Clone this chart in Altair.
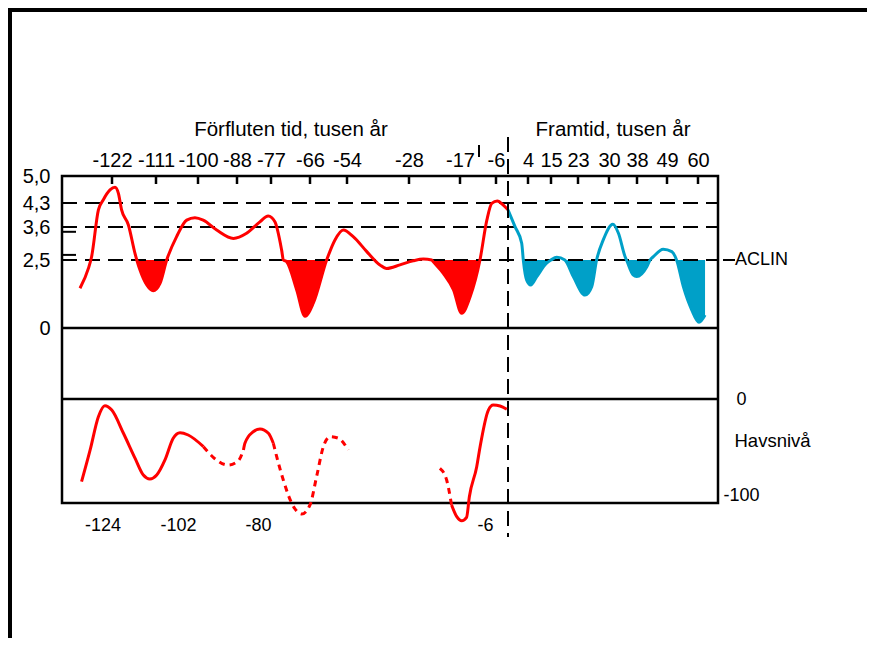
import altair as alt
import pandas as pd

# ---------------- data ----------------
# climate index (ACLIN scale), past (red) and future (blue); time in thousand years
PAST_T = [-130, -127.9, -127.1, -125.4, -124.2, -122.5, -121.25, -120.4, -119.6, -117.9,
          -116.25, -115.8, -115, -113.3, -111.7, -109.95, -108.2, -105.6, -102.96, -100.8,
          -98.4, -94.25, -89.1, -84.9, -80.6, -77.9, -75.9, -74.0, -73.5, -72.6,
          -69.75, -67.4, -64.9, -60.6, -57.9, -55.2, -51.4, -45.7, -40.2, -37.4,
          -31.8, -27.1, -24.9, -23.1, -22.8, -20.6, -18.4, -16.5, -13.9, -10.9,
          -8.8, -7.3, -5.35, -2.35, 0]
PAST_V = [1.46, 2.19, 2.61, 4.10, 4.38, 4.64, 4.71, 4.55, 4.10, 3.66,
          2.72, 2.5, 2.13, 1.58, 1.37, 1.64, 2.5, 3.28, 3.80, 3.87,
          3.80, 3.5, 3.22, 3.39, 3.75, 3.92, 3.75, 2.83, 2.5, 2.44,
          1.40, 0.43, 0.92, 2.5, 3.17, 3.5, 3.28, 2.78, 2.32, 2.19,
          2.32, 2.47, 2.53, 2.5, 2.44, 2.01, 1.40, 0.54, 1.15, 2.5,
          3.80, 4.29, 4.35, 4.24, 4.10]
FUTURE_T = [0, 1.4, 2.74, 3.06, 3.74, 5.3, 8.2, 12.9, 15.0, 16.7, 19.1, 21.6, 24.6, 26.1,
            27.2, 28.7, 31.1, 32.7, 34.6, 35.0, 36.9, 37.9, 41.6, 42.8, 44.0, 47.6, 50.7,
            52.4, 54.8, 57.8, 60.35, 62.5]
FUTURE_V = [4.10, 3.61, 3.06, 2.5, 1.76, 1.58, 1.89, 2.38, 2.5, 2.59, 2.5, 1.89, 1.21, 1.52,
            2.5, 3.17, 3.68, 3.39, 2.61, 2.5, 1.95, 1.89, 2.25, 2.5, 2.61, 2.86, 2.78,
            2.5, 1.52, 0.66, 0.21, 0.48]
# shaded stretches below ACLIN
PAST_DIPS = [(-115.8, -108.2), (-73.5, -60.6), (-23.1, -10.9)]
FUTURE_DIPS = [(3.06, 15.0), (19.1, 27.2), (35.0, 42.8), (52.4, 62.5)]
ACLIN = 2.5
LEVELS = [0, 2.5, 3.6, 4.3, 5.0]
DASH_LEVELS = [4.3, 3.6, 2.5]
SHORT_MARKS = [3.44, 2.67]
TOP_TICKS = [-122, -111, -100, -88, -77, -66, -54, -28, -17, -6, 4, 15, 23, 30, 38, 49, 60]

# sea level (m), time in thousand years
SEA_T = [-130.1, -127.6, -125.2, -123.3, -121.3, -117.9, -114.5, -112.1, -110.2, -108.2,
         -105.8, -103.4, -101.45, -99.2, -95.0,
         -95.0, -92.3, -88.2, -85.4, -84.0,
         -84.0, -83.6, -81.3, -79.35, -76.6, -75.0,
         -75.0, -73.9, -71.75, -69.0, -65.75, -63.05, -60.9, -58.7, -56.5, -53.8, -50.6,
         -20.7, -18.5, -16.9,
         -16.9, -15.2, -13.6, -12.0, -11.1, -8.7, -7.6, -4.9, -3.3, -1.1, 1.1]
SEA_LEVEL = [-86.1, -53.1, -18.4, -7.0, -11.5, -35.7, -61.8, -79.2, -83.3, -79.2,
             -63.5, -40.9, -35.1, -37.5, -49.7,
             -49.7, -60.7, -68.75, -64.3, -53.1,
             -53.1, -46.1, -34.1, -31.25, -35.7, -46.1,
             -46.1, -60.1, -84.4, -108.6, -119.8, -110.4, -80.9, -49.7, -39.3, -40.9, -53.1,
             -72.2, -84.4, -110.4,
             -110.4, -122.6, -126.8, -123.2, -101.8, -70.5, -49.7, -11.5, -6.25, -7.3, -10.7]
SEA_PART = [1] * 15 + [2] * 5 + [3] * 6 + [4] * 11 + [5] * 3 + [6] * 11
SEA_DOTTED_PARTS = [2, 4, 5]
SEA_TICKS = [-124, -102, -80, -6]
SEA_AXIS_VALUES = [0, -100]

# ---------------- layout / style ----------------
W, H = 656, 327
FONT = "Liberation Sans"
FS_TOP = 20
FS_TITLE = 20.5
FS = 18
RED = "#FF0000"
BLUE = "#00A0C8"
NBSP = "\u00a0"

TOP_DOMAIN = [-134.5, -122, -111, -100, -88, -77, -66, -54, -28, -17, -6, 0, 4, 15, 23, 30, 38, 49, 60, 67.1]
TOP_RANGE = [0, 50, 94, 136, 175, 209, 248, 285, 347, 398, 434, 446, 466, 489, 516, 547, 575, 605, 636, 656]
Y_RANGE = [152, 84, 51, 27, 0]
SEA_X_RANGE = [40.5, 116, 196, 423]
SEA_Y_RANGE = [319, 223]

past = pd.DataFrame({"t": PAST_T, "v": PAST_V})
future = pd.DataFrame({"t": FUTURE_T, "v": FUTURE_V})


def dips(df, ranges):
    parts = []
    for i, (a, b) in enumerate(ranges):
        sub = df[(df.t >= a - 1e-9) & (df.t <= b + 1e-9)].copy()
        sub["dip"] = i
        sub["base"] = ACLIN
        parts.append(sub)
    return pd.concat(parts, ignore_index=True)


past_dips = dips(past, PAST_DIPS)
future_dips = dips(future, FUTURE_DIPS)
sea = pd.DataFrame({"t": SEA_T, "lvl": SEA_LEVEL, "part": SEA_PART})
sea["dotted"] = sea["part"].isin(SEA_DOTTED_PARTS)

lab = dict(labelFont=FONT, labelColor="black", labelOverlap=False,
           labelFlush=False, labelBound=False, ticks=False, tickSize=0, domain=False,
           grid=False)

xs = alt.Scale(type="linear", domain=TOP_DOMAIN, range=TOP_RANGE, nice=False, zero=False)
ys = alt.Scale(type="linear", domain=LEVELS, range=Y_RANGE, nice=False, zero=False)
x_axis = alt.Axis(orient="top", values=TOP_TICKS, labelPadding=16, labelBaseline="middle",
                  labelFontSize=FS_TOP,
                  labelExpr="toString(datum.value) + (datum.value < 0 ? '" + NBSP + "' : '')",
                  title=None, **lab)
y_axis = alt.Axis(orient="left", values=LEVELS, labelPadding=12, labelAlign="right",
                  labelBaseline="middle", labelFontSize=FS_TOP,
                  labelExpr="datum.value == 0 ? '0' : replace(format(datum.value, '.1f'), '.', ',')",
                  title=None, **lab)


def cx(f):
    return alt.X(f, type="quantitative", scale=xs, axis=x_axis)


def cy(f):
    return alt.Y(f, type="quantitative", scale=ys, axis=y_axis)


def cyd(v):
    return alt.YDatum(v, type="quantitative", scale=ys, axis=y_axis)


def cxd(v):
    return alt.XDatum(v, type="quantitative", scale=xs, axis=x_axis)


area_past = alt.Chart(past_dips).mark_area(color=RED, interpolate="monotone").encode(
    x=cx("t"), y=cy("v"), y2="base", detail="dip:N")
area_future = alt.Chart(future_dips).mark_area(color=BLUE, interpolate="monotone").encode(
    x=cx("t"), y=cy("v"), y2="base", detail="dip:N")
hlines = alt.Chart(pd.DataFrame({"v": DASH_LEVELS})).mark_rule(
    color="black", strokeWidth=2, strokeDash=[15, 8]).encode(
    y=cy("v"), x=alt.value(0), x2=alt.value(W))
short_marks = alt.Chart(pd.DataFrame({"v": SHORT_MARKS})).mark_rule(
    color="black", strokeWidth=2).encode(y=cy("v"), x=alt.value(0), x2=alt.value(14))
ticks = alt.Chart(pd.DataFrame({"t": TOP_TICKS})).mark_rule(
    color="black", strokeWidth=2.5).encode(x=cx("t"), y=alt.value(0), y2=alt.value(8))
sep0 = alt.Chart().mark_rule(color="black", strokeWidth=2.5).encode(
    y=cyd(0), x=alt.value(0), x2=alt.value(W))
line_past = alt.Chart(past).mark_line(color=RED, strokeWidth=3, interpolate="monotone").encode(
    x=cx("t"), y=cy("v"))
line_future = alt.Chart(future).mark_line(color=BLUE, strokeWidth=3, interpolate="monotone").encode(
    x=cx("t"), y=cy("v"))
now_line = alt.Chart().mark_rule(color="black", strokeWidth=2, strokeDash=[15, 7]).encode(
    x=cxd(0), y=alt.value(-39), y2=alt.value(361))
small_bar = alt.Chart().mark_rule(color="black", strokeWidth=2).encode(
    x=alt.value(417), y=alt.value(-31), y2=alt.value(-19))
aclin_dash = alt.Chart().mark_rule(color="black", strokeWidth=2).encode(
    y=cyd(ACLIN), x=alt.value(661), x2=alt.value(673))
aclin_text = alt.Chart().mark_text(align="left", baseline="middle", font=FONT, fontSize=FS,
                                   color="black").encode(
    y=cyd(ACLIN), x=alt.value(673), text=alt.value("ACLIN"))
title_past = alt.Chart().mark_text(align="center", baseline="middle", font=FONT,
                                   fontSize=FS_TITLE, color="black").encode(
    x=alt.value(229), y=alt.value(-46), text=alt.value("Förfluten tid, tusen år"))
title_future = alt.Chart().mark_text(align="center", baseline="middle", font=FONT,
                                     fontSize=FS_TITLE, color="black").encode(
    x=alt.value(551), y=alt.value(-46), text=alt.value("Framtid, tusen år"))
frame_top = alt.Chart().mark_rule(color="black", strokeWidth=4).encode(
    x=alt.value(-54), x2=alt.value(813), y=alt.value(-166))
frame_left = alt.Chart().mark_rule(color="black", strokeWidth=4).encode(
    x=alt.value(-52), y=alt.value(-168), y2=alt.value(470))

climate = alt.layer(area_past, area_future, hlines, short_marks, ticks, sep0, line_past,
                    line_future, now_line, small_bar, aclin_dash, aclin_text, title_past,
                    title_future, frame_top, frame_left)

# ---- sea level panel ----
sxs = alt.Scale(type="linear", domain=SEA_TICKS, range=SEA_X_RANGE, nice=False, zero=False)
sys_ = alt.Scale(type="linear", domain=[-100, 0], range=SEA_Y_RANGE, nice=False, zero=False)
sx_axis = alt.Axis(orient="bottom", values=SEA_TICKS, labelPadding=22, labelBaseline="middle",
                   labelFontSize=FS, labelExpr="toString(datum.value)", title=None, **lab)
sy_axis = alt.Axis(orient="right", values=SEA_AXIS_VALUES, labelPadding=23, labelAlign="center",
                   labelBaseline="middle", labelFontSize=FS, labelExpr="toString(datum.value)",
                   title="Havsnivå", titleAngle=0, titleAlign="left", titleBaseline="middle",
                   titleX=16, titleY=264, titleFont=FONT, titleFontSize=18.5,
                   titleFontWeight="normal", titleColor="black", **lab)

sea_solid = alt.Chart(sea[~sea.dotted]).mark_line(color=RED, strokeWidth=3,
                                                   interpolate="monotone").encode(
    x=alt.X("t", type="quantitative", scale=sxs, axis=sx_axis),
    y=alt.Y("lvl", type="quantitative", scale=sys_, axis=sy_axis), detail="part:N")
sea_dotted = alt.Chart(sea[sea.dotted]).mark_line(color=RED, strokeWidth=3, strokeDash=[6, 5],
                                                   interpolate="monotone").encode(
    x=alt.X("t", type="quantitative", scale=sxs, axis=sx_axis),
    y=alt.Y("lvl", type="quantitative", scale=sys_, axis=sy_axis), detail="part:N")
sea_sep = alt.Chart().mark_rule(color="black", strokeWidth=2.5).encode(
    y=alt.YDatum(0, type="quantitative", scale=sys_, axis=sy_axis),
    x=alt.value(0), x2=alt.value(W))

sea_panel = alt.layer(sea_sep, sea_solid, sea_dotted)

chart = alt.layer(climate, sea_panel).resolve_scale(
    x="independent", y="independent"
).properties(
    width=W, height=H,
    padding={"left": 54, "top": 168, "right": 149, "bottom": 135},
    autosize=alt.AutoSizeParams(type="none"),
    background="white",
).configure_view(stroke="black", strokeWidth=2.5)

chart.save("out.html", embed_options={"renderer": "svg", "actions": False})
